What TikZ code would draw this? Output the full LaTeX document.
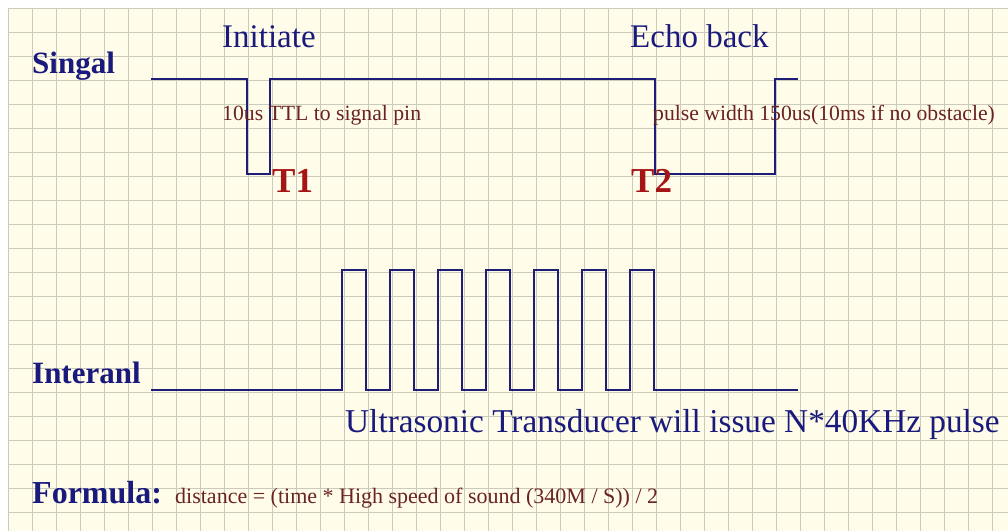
\documentclass[tikz,border=0pt]{standalone}
\usepackage{fontspec}
\setmainfont{Liberation Serif}
\definecolor{paper}{HTML}{FFFDE9}
\definecolor{gridc}{HTML}{CACABD}
\definecolor{wave}{HTML}{1E1E78}
\definecolor{navy}{HTML}{1A1A7C}
\definecolor{darkred}{HTML}{A51515}
\definecolor{brownred}{HTML}{6A2222}
\begin{document}
\begin{tikzpicture}[x=1pt,y=-1pt,
  lbl/.style={anchor=base west, inner sep=0pt},
  heading/.style={lbl, text=navy, font=\fontsize{31}{31}\selectfont\bfseries},
  event/.style={lbl, text=navy, font=\fontsize{33}{33}\selectfont},
  note/.style={lbl, text=brownred, font=\fontsize{21.7}{22}\selectfont},
  tmark/.style={lbl, text=darkred, font=\fontsize{35}{35}\selectfont\bfseries},
  wavestyle/.style={draw=wave, line width=2.2pt}]
\useasboundingbox (0,0) rectangle (1008,531);
\fill[white] (0,0) rectangle (1008,531);
\fill[paper] (8,8) rectangle (1008,531);
\draw[gridc, line width=1pt] \foreach \i in {0,...,41} { ({8+24*\i},8) -- ({8+24*\i},531) };
\draw[gridc, line width=1pt] \foreach \j in {0,...,21} { (8,{8+24*\j}) -- (1008,{8+24*\j}) };
% signal waveform
\draw[wavestyle] (151,79) -| (247,174) -| (270,79) -| (655,174) -| (775,79) -- (798,79);
% internal waveform
\draw[wavestyle] (151,390) \foreach \k in {0,...,6} { -| ({342+48*\k},270) -| ({366+48*\k},390) } -- (798,390);
% texts
\node[heading] (singal) at (32,73) {Singal};
\node[event] (initiate) at (222,47) {Initiate};
\node[event] (echo) at (630,47) {Echo back};
\node[note] (ttl) at (222,120) {10us TTL to signal pin};
\node[note] (pw) at (653,120) {pulse width 150us(10ms if no obstacle)};
\node[tmark] (t1) at (272,192) {T1};
\node[tmark] (t2) at (631,192) {T2};
\node[heading] (interanl) at (32,383) {Interanl};
\node[lbl, text=navy, font=\fontsize{33.3}{34}\selectfont] (ultra) at (345,432) {Ultrasonic Transducer will issue N*40KHz pulse};
\node[heading, font=\fontsize{32}{32}\selectfont\bfseries] (formula) at (32,503) {Formula:};
\node[note, font=\fontsize{22}{23}\selectfont] (dist) at (175,503) {distance = (time * High speed of sound (340M / S)) / 2};
\end{tikzpicture}
\end{document}
